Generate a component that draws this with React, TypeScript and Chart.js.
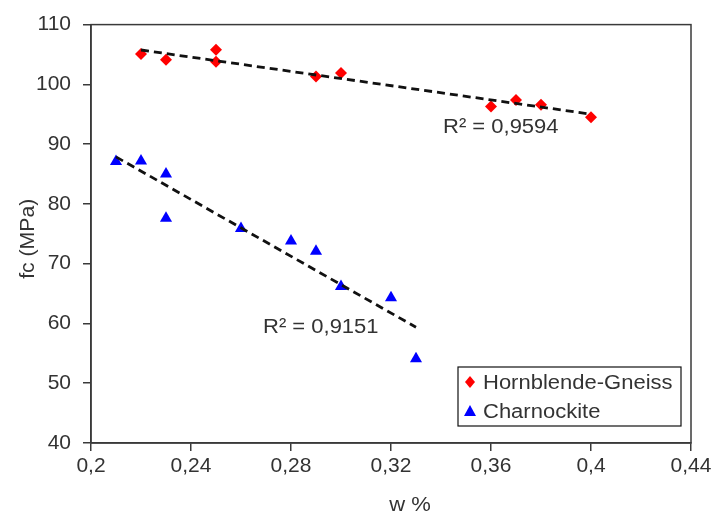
import React, { useEffect, useRef } from "react";
import { Chart, registerables } from "chart.js";

Chart.register(...registerables);

// Hornblende-Gneiss
const hgW = [0.22, 0.23, 0.25, 0.25, 0.29, 0.3, 0.36, 0.37, 0.38, 0.4];
const hgFc = [105.1, 104.1, 105.8, 103.8, 101.3, 101.9, 96.3, 97.4, 96.6, 94.5];
// Charnockite
const chW = [0.21, 0.22, 0.23, 0.23, 0.26, 0.28, 0.29, 0.3, 0.32, 0.33];
const chFc = [87.1, 87.2, 85.0, 77.6, 75.9, 73.8, 72.1, 66.2, 64.3, 54.1];

const seriesLabels = ["Hornblende-Gneiss", "Charnockite"];
const r2Labels = ["R² = 0,9594", "R² = 0,9151"];
// label anchor positions (data coords)
const r2X = [0.3408, 0.2688];
const r2Y = [92.8, 59.3];

const xTicks = [0.2, 0.24, 0.28, 0.32, 0.36, 0.4, 0.44];
const yTicks = [40, 50, 60, 70, 80, 90, 100, 110];

const FONT = "'Liberation Sans', Arial, sans-serif";
const TEXT = "#333333";
const AXIS = "#3a3a3a";
const SX = 1.1;

function linFit(xs: number[], ys: number[]) {
  const n = xs.length;
  const mx = xs.reduce((a, b) => a + b, 0) / n;
  const my = ys.reduce((a, b) => a + b, 0) / n;
  let sxy = 0, sxx = 0;
  for (let i = 0; i < n; i++) {
    sxy += (xs[i] - mx) * (ys[i] - my);
    sxx += (xs[i] - mx) * (xs[i] - mx);
  }
  const b = sxy / sxx;
  const a = my - b * mx;
  const x0 = Math.min(...xs);
  const x1 = Math.max(...xs);
  return [
    { x: x0, y: a + b * x0 },
    { x: x1, y: a + b * x1 },
  ];
}

function wideText(ctx: any, text: string, x: number, y: number, sx: number) {
  ctx.save();
  ctx.translate(x, y);
  ctx.scale(sx, 1);
  ctx.fillText(text, 0, 0);
  ctx.restore();
}

const decorPlugin = {
  id: "decor",
  afterDraw(chart: any) {
    const { ctx, chartArea, scales } = chart;
    const { left, top, right, bottom } = chartArea;
    ctx.save();
    // frame
    ctx.strokeStyle = AXIS;
    ctx.lineWidth = 1.5;
    ctx.strokeRect(left, top, right - left, bottom - top);

    // R² labels
    ctx.fillStyle = TEXT;
    ctx.font = `20px ${FONT}`;
    ctx.textBaseline = "middle";
    ctx.textAlign = "left";
    for (let i = 0; i < r2Labels.length; i++) {
      wideText(ctx, r2Labels[i], scales.x.getPixelForValue(r2X[i]), scales.y.getPixelForValue(r2Y[i]), SX);
    }

    // axis titles
    ctx.textAlign = "center";
    wideText(ctx, "w %", 410, 505, SX);
    ctx.save();
    ctx.translate(28, (top + bottom) / 2 + 5);
    ctx.rotate(-Math.PI / 2);
    ctx.scale(1.06, 1);
    ctx.fillText("fc (MPa)", 0, 0);
    ctx.restore();

    // legend
    const lx = right - 233;
    const ly = bottom - 76;
    const lw = 223;
    const lh = 59;
    ctx.fillStyle = "#ffffff";
    ctx.fillRect(lx, ly, lw, lh);
    ctx.strokeStyle = "#111111";
    ctx.lineWidth = 1.2;
    ctx.strokeRect(lx, ly, lw, lh);
    const ds = chart.data.datasets;
    for (let i = 0; i < 2; i++) {
      const cy = ly + 15 + i * 29;
      const cx = lx + 12;
      ctx.fillStyle = ds[i].backgroundColor;
      ctx.beginPath();
      if (i === 0) {
        ctx.moveTo(cx, cy - 6);
        ctx.lineTo(cx + 5, cy);
        ctx.lineTo(cx, cy + 6);
        ctx.lineTo(cx - 5, cy);
      } else {
        ctx.moveTo(cx, cy - 6);
        ctx.lineTo(cx + 6, cy + 5);
        ctx.lineTo(cx - 6, cy + 5);
      }
      ctx.closePath();
      ctx.fill();
      ctx.fillStyle = TEXT;
      ctx.textAlign = "left";
      ctx.font = `20px ${FONT}`;
      wideText(ctx, seriesLabels[i], lx + 25, cy + 1, SX);
    }
    ctx.restore();
  },
};

export default function App() {
  const ref = useRef<HTMLCanvasElement | null>(null);
  useEffect(() => {
    document.body.style.margin = "0";
    const canvas = ref.current!;
    const chart = new Chart(canvas, {
      type: "scatter",
      data: {
        datasets: [
          {
            label: seriesLabels[0],
            data: hgW.map((x, i) => ({ x, y: hgFc[i] })),
            backgroundColor: "#ff0000",
            borderColor: "#ff0000",
            pointStyle: "rectRot",
            pointRadius: 6,
            borderWidth: 0,
            order: 2,
          },
          {
            label: seriesLabels[1],
            data: chW.map((x, i) => ({ x, y: chFc[i] })),
            backgroundColor: "#0000ff",
            borderColor: "#0000ff",
            pointStyle: "triangle",
            pointRadius: 7,
            borderWidth: 0,
            order: 2,
          },
          {
            label: "trend1",
            type: "line",
            data: linFit(hgW, hgFc),
            borderColor: "#111111",
            borderWidth: 2.8,
            borderDash: [8, 5],
            pointRadius: 0,
            showLine: true,
            fill: false,
            order: 1,
          },
          {
            label: "trend2",
            type: "line",
            data: linFit(chW, chFc),
            borderColor: "#111111",
            borderWidth: 2.8,
            borderDash: [8, 5],
            pointRadius: 0,
            showLine: true,
            fill: false,
            order: 1,
          },
        ] as any,
      },
      options: {
        animation: false,
        responsive: false,
        devicePixelRatio: 1,
        layout: { padding: { top: 23, right: 24, left: 0, bottom: 0 } },
        plugins: { legend: { display: false }, tooltip: { enabled: false } },
        scales: {
          x: {
            type: "linear",
            min: 0.2,
            max: 0.44,
            afterBuildTicks: (axis: any) => {
              axis.ticks = xTicks.map((v) => ({ value: v }));
            },
            afterFit: (axis: any) => {
              axis.height = 74;
            },
            ticks: {
              color: TEXT,
              font: { family: FONT, size: 21 },
              padding: 3,
              maxRotation: 0,
              callback: (v: any) => String(Number(v).toFixed(2).replace(/0+$/, "").replace(/\.$/, "")).replace(".", ","),
            },
            grid: { display: true, drawOnChartArea: false, drawTicks: true, tickLength: 8, color: AXIS, lineWidth: 1.5 },
            border: { display: true, color: AXIS, width: 1.5 },
          },
          y: {
            type: "linear",
            min: 40,
            max: 110,
            afterBuildTicks: (axis: any) => {
              axis.ticks = yTicks.map((v) => ({ value: v }));
            },
            afterFit: (axis: any) => {
              axis.width = 91;
            },
            ticks: {
              color: TEXT,
              font: { family: FONT, size: 21 },
              padding: 12,
            },
            grid: { display: true, drawOnChartArea: false, drawTicks: true, tickLength: 8, color: AXIS, lineWidth: 1.5 },
            border: { display: true, color: AXIS, width: 1.5 },
          },
        },
      },
      plugins: [decorPlugin],
    });
    return () => chart.destroy();
  }, []);
  return <canvas ref={ref} width={715} height={517} style={{ display: "block" }} />;
}
